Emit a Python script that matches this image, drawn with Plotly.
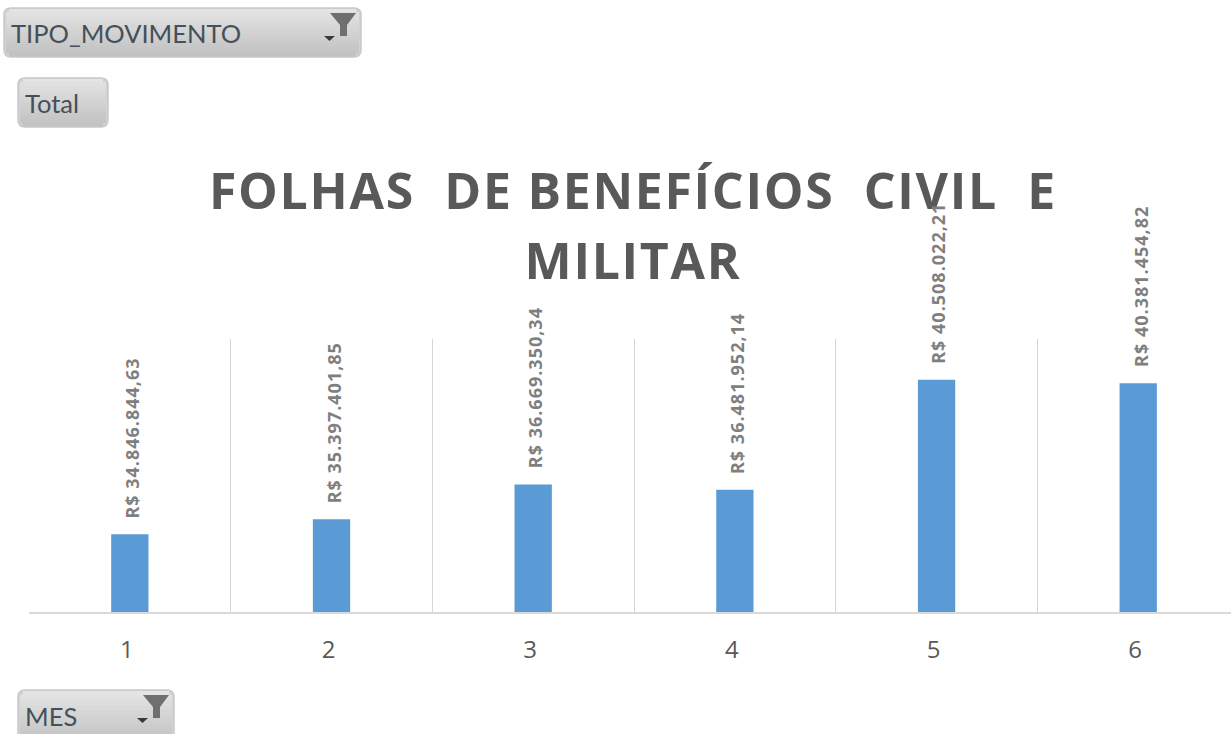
import plotly.graph_objects as go

W, H = 1231, 734
months = [1, 2, 3, 4, 5, 6]
values = [34846844.63, 35397401.85, 36669350.34, 36481952.14, 40508022.21, 40381454.82]
labels = ["R$ 34.846.844,63", "R$ 35.397.401,85", "R$ 36.669.350,34",
          "R$ 36.481.952,14", "R$ 40.508.022,21", "R$ 40.381.454,82"]
boundaries = [0.5, 1.5, 2.5, 3.5, 4.5, 5.5, 6.5]
title_text = "FOLHAS  DE BENEFÍCIOS  CIVIL  E<br>MILITAR"


def px(x):
    return x / W


def py(y):
    return 1 - y / H


def rounded(x0, y0, x1, y1, r):
    X0, X1, Y0, Y1 = px(x0), px(x1), py(y0), py(y1)
    rx, ry = r / W, r / H
    return (f"M{X0 + rx},{Y0} L{X1 - rx},{Y0} Q{X1},{Y0} {X1},{Y0 - ry} "
            f"L{X1},{Y1 + ry} Q{X1},{Y1} {X1 - rx},{Y1} L{X0 + rx},{Y1} "
            f"Q{X0},{Y1} {X0},{Y1 + ry} L{X0},{Y0 - ry} Q{X0},{Y0} {X0 + rx},{Y0} Z")


def poly(pts):
    return "M" + " L".join(f"{px(a)},{py(b)}" for a, b in pts) + " Z"


shapes = []
annotations = []


def button(x0, y0, x1, y1, text, text_y, funnel=False):
    shapes.append(dict(type="path", xref="paper", yref="paper", path=rounded(x0, y0, x1, y1, 7),
                       fillcolor="#d2d2d2", line=dict(color="#c9c9c9", width=1.5)))
    n = 14
    h = (y1 - y0 - 2) / n
    for i in range(n):
        t = i / (n - 1)
        c = int(228 - t * 34)
        inset = 2 if 0 < i < n - 1 else 5
        shapes.append(dict(type="rect", xref="paper", yref="paper", x0=px(x0 + inset), x1=px(x1 - inset),
                           y0=py(y0 + 1 + i * h), y1=py(y0 + 1 + (i + 1) * h + 0.5),
                           fillcolor=f"rgb({c},{c},{c})", line=dict(width=0)))
    annotations.append(dict(xref="paper", yref="paper", x=px(x0 + 5), y=py(text_y),
                            xanchor="left", yanchor="middle", showarrow=False, text=text,
                            font=dict(family="Lato", size=25.5, color="#44505a")))
    if funnel:
        fx, fy = x1 - 31, y0 + 5
        shapes.append(dict(type="path", xref="paper", yref="paper", line=dict(width=0), fillcolor="#6f6f6f",
                           path=poly([(fx, fy), (fx + 26, fy), (fx + 17, fy + 12), (fx + 17, fy + 23),
                                      (fx + 10, fy + 23), (fx + 10, fy + 12)])))
        shapes.append(dict(type="path", xref="paper", yref="paper", line=dict(width=0), fillcolor="#3a3a3a",
                           path=poly([(fx - 6, fy + 23), (fx + 5, fy + 23), (fx - 0.5, fy + 28)])))


button(4, 8, 361, 57, "TIPO_MOVIMENTO", 33.5, True)
button(18, 78, 108, 127, "Total", 103.5)
button(18, 690, 174, 745, "MES", 715.5, True)

for m, v, t in zip(months, values, labels):
    annotations.append(dict(x=m, y=v, xref="x", yref="y", text=t, textangle=-90, showarrow=False,
                            xanchor="center", yanchor="bottom", xshift=2, yshift=22,
                            font=dict(family="Open Sans", size=18, color="#7f7f7f", weight="bold")))

fig = go.Figure(go.Bar(x=months, y=values, width=0.185, marker=dict(color="#5B9BD5", line=dict(width=0)),
                       hoverinfo="skip"))
fig.update_layout(
    width=W, height=H, autosize=False,
    margin=dict(l=0, r=0, t=0, b=0),
    paper_bgcolor="white", plot_bgcolor="white",
    showlegend=False,
    title=dict(text=title_text, x=633 / W, xanchor="center", y=1 - 209 / H, yanchor="top",
               font=dict(family="Open Sans", size=50, color="#595959", weight="bold")),
    shapes=shapes, annotations=annotations,
    xaxis=dict(domain=[29 / W, 1], range=[0.5, 6.46], tickmode="array", tickvals=months,
               ticktext=[str(m) for m in months], showgrid=False, zeroline=False,
               showline=True, linecolor="#d9d9d9", linewidth=1.5, ticks="",
               ticklabelshift=-3, ticklabelstandoff=15,
               tickfont=dict(family="Open Sans", size=24, color="#595959"),
               minor=dict(tickmode="array", tickvals=boundaries, showgrid=True,
                          gridcolor="#d6d6d6", gridwidth=1, ticks="")),
    yaxis=dict(domain=[1 - 612 / H, 1 - 339 / H], range=[32000000, 42000000], visible=False),
)
post = """
document.documentElement.style.margin='0';document.body.style.margin='0';document.body.style.overflow='hidden';
document.querySelectorAll('.gtitle').forEach(function(e){
  e.style.letterSpacing='1.7px';
  var l=e.querySelectorAll('tspan.line');
  if(l.length>1){l[1].setAttribute('y',parseFloat(l[1].getAttribute('y'))+5);}
});
document.querySelectorAll('.annotation-text').forEach(function(e){
  if(e.textContent.indexOf('R$')===0){e.style.letterSpacing='1px';}
});
"""
fig.write_html("out.html", post_script=post, config=dict(displayModeBar=False))
